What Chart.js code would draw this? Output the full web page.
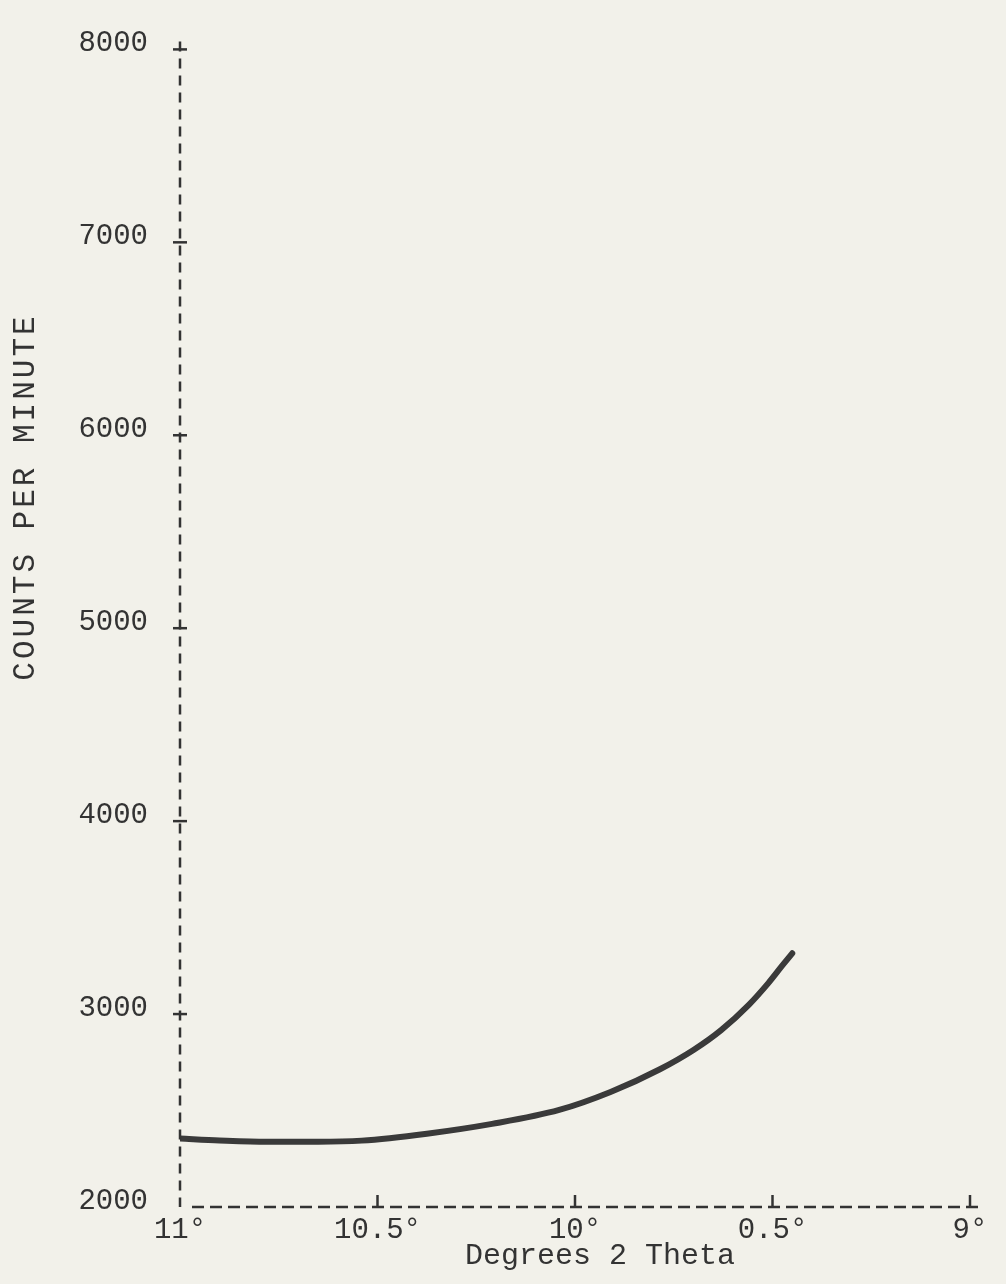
<!DOCTYPE html>
<html>
<head>
<meta charset="utf-8">
<title>Counts per minute vs degrees 2 theta</title>
<script src="https://cdn.jsdelivr.net/npm/chart.js@4"></script>
<style>
  html, body { margin: 0; padding: 0; background: #f2f1ea; }
  #wrap { width: 1006px; height: 1284px; position: relative; }
</style>
</head>
<body>
<div id="wrap"><canvas id="scanChart"></canvas></div>
<script>
// curve (x axis runs 11 -> 9 degrees)
var thetaDeg = [11.0, 10.9, 10.78, 10.65, 10.54, 10.375, 10.21, 10.04, 9.91, 9.785, 9.70, 9.63, 9.56, 9.51, 9.475, 9.45];
var counts = [2355, 2345, 2338, 2338, 2344, 2380, 2431, 2503, 2596, 2714, 2814, 2917, 3048, 3162, 3252, 3315];

var xTickValues = [11, 10.5, 10, 9.5, 9];
var xTickLabels = ['11°', '10.5°', '10°', '0.5°', '9°'];
var yTickLabels = ['2000', '3000', '4000', '5000', '6000', '7000', '8000'];

var ink = '#333333';
var mono = '"Liberation Mono", "DejaVu Sans Mono", monospace';

// dashed axes, tick marks crossing them, and the two axis titles
var axisMarks = {
  id: 'axisMarks',
  afterDraw: function (chart) {
    var c = chart.ctx;
    var xs = chart.scales.x, ys = chart.scales.y;
    c.save();
    c.strokeStyle = ink;
    c.lineWidth = 2.5;

    c.setLineDash([10, 7]);
    c.beginPath();
    c.moveTo(xs.left, ys.top - 8);
    c.lineTo(xs.left, ys.bottom);
    c.stroke();
    c.setLineDash([12, 6]);
    c.beginPath();
    c.moveTo(xs.left + 12, ys.bottom);
    c.lineTo(xs.right + 12, ys.bottom);
    c.stroke();
    c.setLineDash([]);

    ys.ticks.forEach(function (t) {
      if (t.value === 2000) return;
      var py = ys.getPixelForValue(t.value);
      c.beginPath();
      c.moveTo(xs.left - 7, py);
      c.lineTo(xs.left + 7, py);
      c.stroke();
    });
    xs.ticks.forEach(function (t) {
      if (t.value === 11) return;
      var px = xs.getPixelForValue(t.value);
      c.beginPath();
      c.moveTo(px, ys.bottom);
      c.lineTo(px, ys.bottom - 12);
      c.stroke();
    });

    c.fillStyle = ink;
    c.textAlign = 'center';
    c.textBaseline = 'middle';
    c.font = '30px ' + mono;
    c.fillText('Degrees 2 Theta', 600, 1256);

    c.translate(26, 497);
    c.rotate(-Math.PI / 2);
    c.font = '31px ' + mono;
    c.letterSpacing = '3px';
    c.fillText('COUNTS PER MINUTE', 0, 0);
    c.restore();
  }
};

var ctx = document.getElementById('scanChart').getContext('2d');
var scanChart = new Chart(ctx, {
  type: 'line',
  data: {
    datasets: [{
      data: thetaDeg.map(function (t, i) { return { x: t, y: counts[i] }; }),
      borderColor: '#3a3a3a',
      borderWidth: 6,
      borderCapStyle: 'round',
      borderJoinStyle: 'round',
      pointRadius: 0,
      cubicInterpolationMode: 'monotone',
      fill: false
    }]
  },
  options: {
    responsive: true,
    maintainAspectRatio: false,
    animation: false,
    layout: {
      padding: { top: 38, right: 36, left: 0, bottom: 0 }
    },
    plugins: {
      legend: { display: false },
      tooltip: { enabled: false }
    },
    scales: {
      x: {
        type: 'linear',
        reverse: true,
        min: 9,
        max: 11,
        afterBuildTicks: function (scale) {
          scale.ticks = xTickValues.map(function (v) { return { value: v }; });
        },
        afterFit: function (scale) { scale.height = 77; },
        grid: { display: false, drawTicks: false },
        border: { display: false },
        ticks: {
          padding: 6,
          color: ink,
          font: { family: mono, size: 29 },
          maxRotation: 0,
          autoSkip: false,
          callback: function (v) {
            var i = xTickValues.indexOf(v);
            return i >= 0 ? xTickLabels[i] : '';
          }
        }
      },
      y: {
        min: 2000,
        max: 8000,
        afterFit: function (scale) { scale.width = 180; },
        grid: { display: false, drawTicks: false },
        border: { display: false },
        ticks: {
          stepSize: 1000,
          padding: 32,
          labelOffset: -6,
          color: ink,
          font: { family: mono, size: 29 },
          callback: function (v) {
            var i = (v - 2000) / 1000;
            return yTickLabels[i] !== undefined ? yTickLabels[i] : '';
          }
        }
      }
    }
  },
  plugins: [axisMarks]
});
</script>
</body>
</html>
